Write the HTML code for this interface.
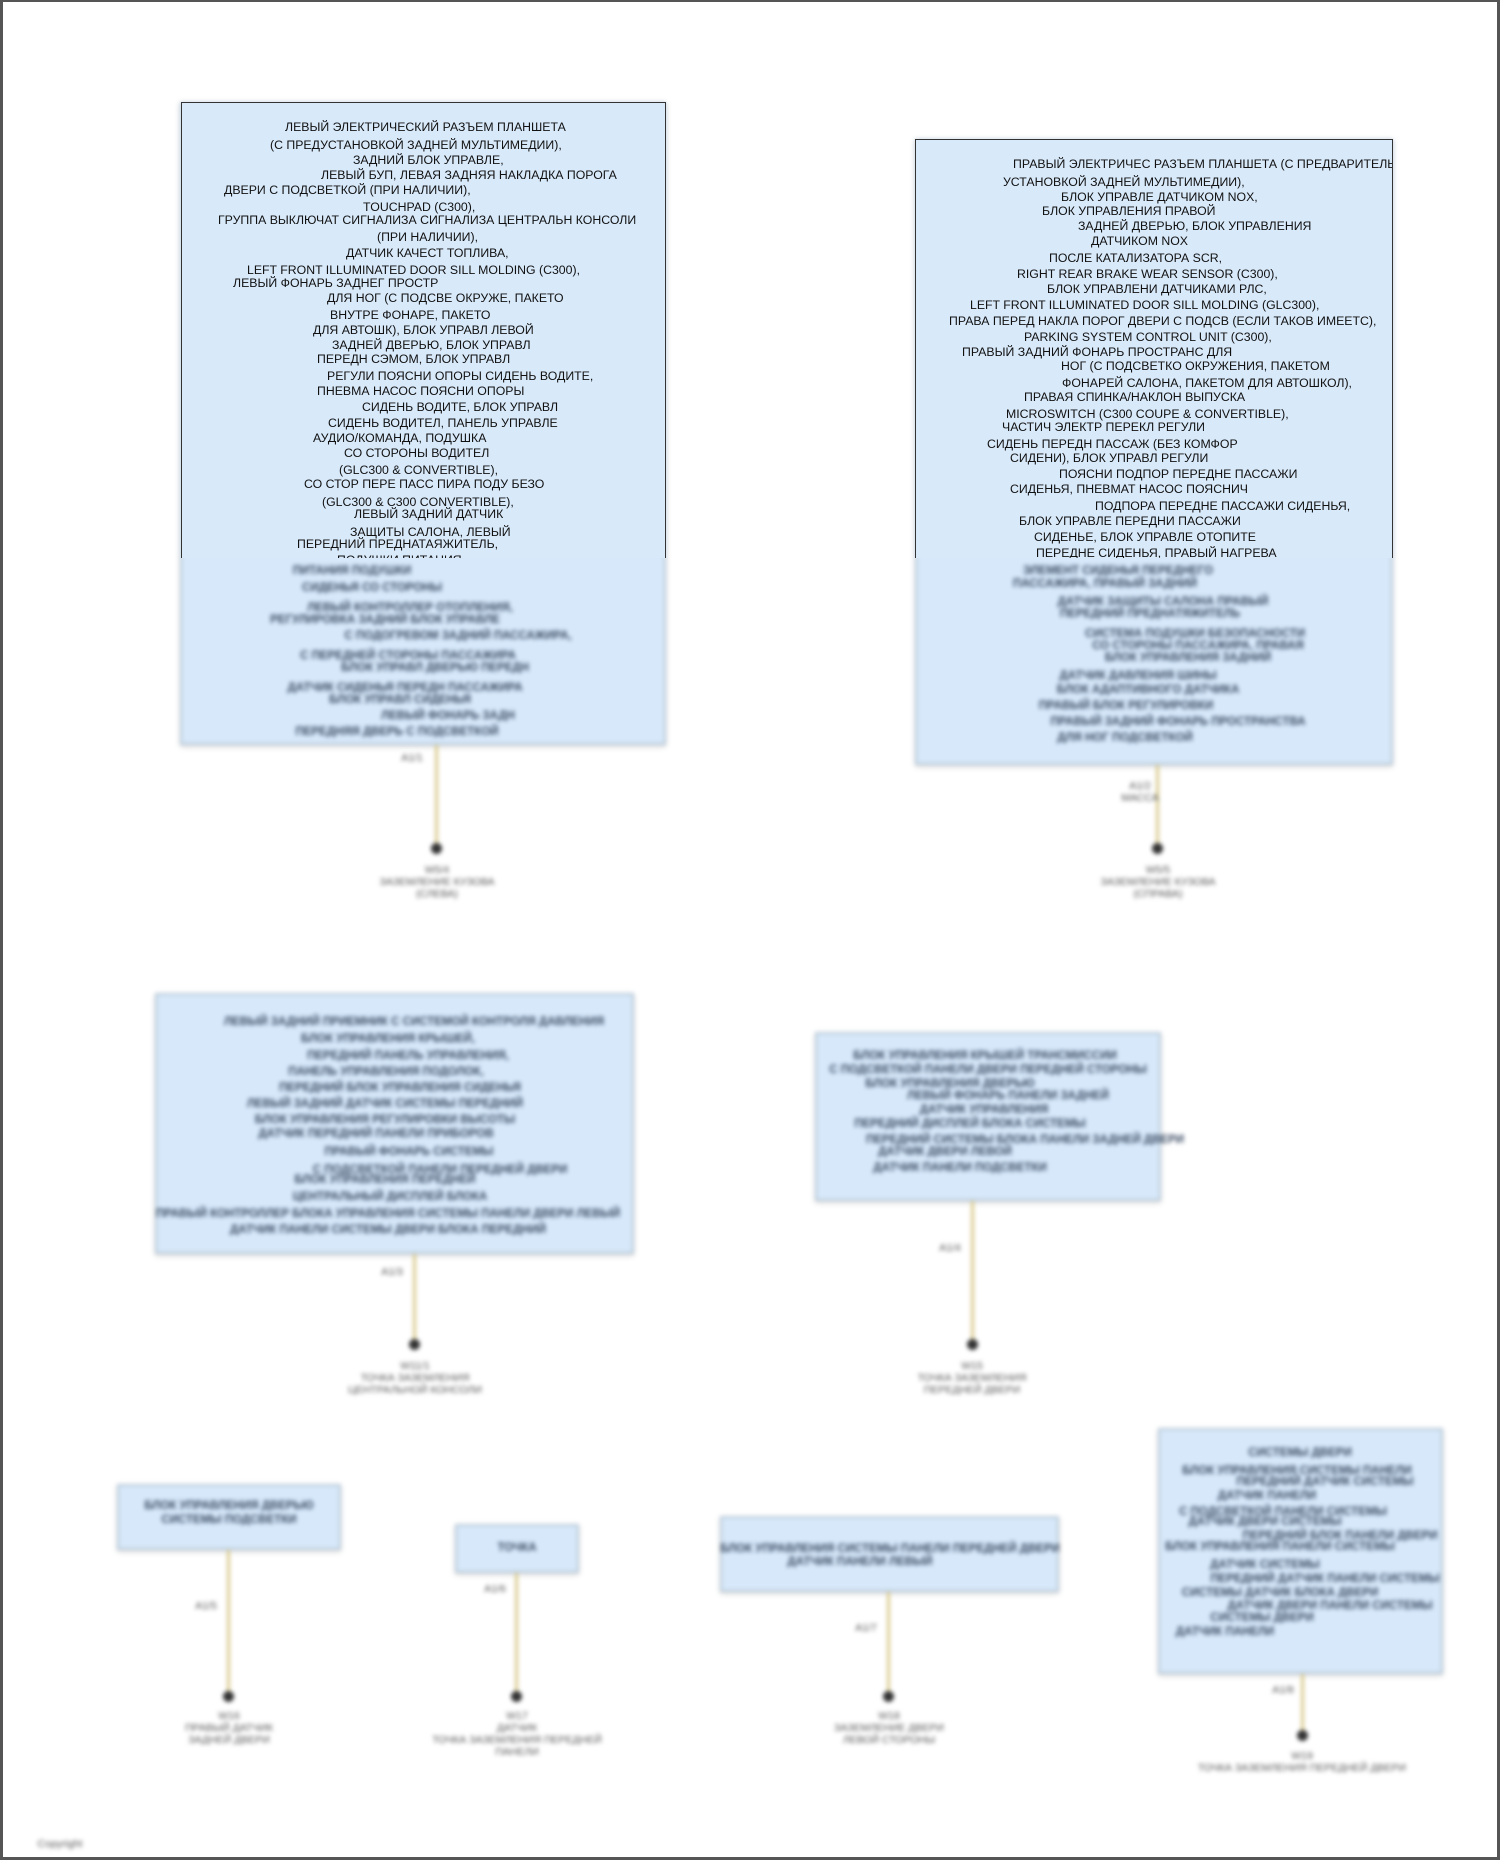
<!DOCTYPE html>
<html><head><meta charset="utf-8">
<style>
html,body{margin:0;padding:0;background:#fff}
#pg{position:relative;width:1500px;height:1861px;overflow:hidden;background:#fff;font-family:"Liberation Sans","Noto Sans CJK SC",sans-serif}
#frame{position:absolute;left:0;top:0;width:1494px;height:1855px;border:3px solid #555;border-top-width:2px;border-left-width:3px;z-index:5;pointer-events:none}
.box{position:absolute;background:#d8e9fa;border:1px solid #333;box-sizing:border-box}
.bbox{position:absolute;background:#d6e8fa;border:2px solid #b9c9d6;box-sizing:border-box;box-shadow:0 2px 4px rgba(0,0,0,.15)}
.t{position:absolute;white-space:nowrap;font-size:12.3px;color:#111;line-height:14px}
.bt{position:absolute;white-space:nowrap;font-size:11.5px;font-weight:bold;color:#3a4a62;line-height:13px;transform:translateX(-50%)}
.ln{position:absolute;width:3px;background:#d8c98c}
.dot{position:absolute;width:11px;height:11px;border-radius:50%;background:#333}
.lab{position:absolute;white-space:nowrap;font-size:10.5px;color:#555;text-align:center;line-height:12px;transform:translateX(-50%)}
#blur{position:absolute;left:0;top:0;width:1500px;height:1861px;filter:blur(2.2px)}
#sharp{position:absolute;left:0;top:0;width:1500px;height:558px;overflow:hidden;z-index:2}
</style></head><body><div id="pg">
<div id="blur">
 <div class="bbox" style="left:180px;top:102px;width:486px;height:643px"></div>
 <div class="bbox" style="left:915px;top:139px;width:478px;height:626px"></div>
 <div class="bt" style="left:352px;top:565px">ПИТАНИЯ ПОДУШКИ</div>
 <div class="bt" style="left:372px;top:582px">СИДЕНЬЯ СО СТОРОНЫ</div>
 <div class="bt" style="left:410px;top:602px">ЛЕВЫЙ КОНТРОЛЛЕР ОТОПЛЕНИЯ,</div>
 <div class="bt" style="left:385px;top:614px">РЕГУЛИРОВКА ЗАДНИЙ БЛОК УПРАВЛЕ</div>
 <div class="bt" style="left:458px;top:630px">С ПОДОГРЕВОМ ЗАДНИЙ ПАССАЖИРА,</div>
 <div class="bt" style="left:408px;top:650px">С ПЕРЕДНЕЙ СТОРОНЫ ПАССАЖИРА</div>
 <div class="bt" style="left:435px;top:662px">БЛОК УПРАВЛ ДВЕРЬЮ ПЕРЕДН</div>
 <div class="bt" style="left:405px;top:682px">ДАТЧИК СИДЕНЬЯ ПЕРЕДН ПАССАЖИРА</div>
 <div class="bt" style="left:400px;top:694px">БЛОК УПРАВЛ СИДЕНЬЯ</div>
 <div class="bt" style="left:448px;top:710px">ЛЕВЫЙ ФОНАРЬ ЗАДН</div>
 <div class="bt" style="left:397px;top:726px">ПЕРЕДНЯЯ ДВЕРЬ С ПОДСВЕТКОЙ</div>
 <div class="bt" style="left:1118px;top:565px">ЭЛЕМЕНТ СИДЕНЬЯ ПЕРЕДНЕГО</div>
 <div class="bt" style="left:1105px;top:578px">ПАССАЖИРА, ПРАВЫЙ ЗАДНИЙ</div>
 <div class="bt" style="left:1163px;top:596px">ДАТЧИК ЗАЩИТЫ САЛОНА ПРАВЫЙ</div>
 <div class="bt" style="left:1150px;top:608px">ПЕРЕДНИЙ ПРЕДНАТЯЖИТЕЛЬ</div>
 <div class="bt" style="left:1195px;top:628px">СИСТЕМА ПОДУШКИ БЕЗОПАСНОСТИ</div>
 <div class="bt" style="left:1198px;top:640px">СО СТОРОНЫ ПАССАЖИРА, ПРАВАЯ</div>
 <div class="bt" style="left:1188px;top:652px">БЛОК УПРАВЛЕНИЯ ЗАДНИЙ</div>
 <div class="bt" style="left:1138px;top:670px">ДАТЧИК ДАВЛЕНИЯ ШИНЫ</div>
 <div class="bt" style="left:1148px;top:684px">БЛОК АДАПТИВНОГО ДАТЧИКА</div>
 <div class="bt" style="left:1126px;top:700px">ПРАВЫЙ БЛОК РЕГУЛИРОВКИ</div>
 <div class="bt" style="left:1178px;top:716px">ПРАВЫЙ ЗАДНИЙ ФОНАРЬ ПРОСТРАНСТВА</div>
 <div class="bt" style="left:1125px;top:732px">ДЛЯ НОГ ПОДСВЕТКОЙ</div>
 <div class="ln" style="left:435px;top:745px;height:104px"></div>
 <div class="dot" style="left:431px;top:843px"></div>
 <div class="lab" style="left:412px;top:752px">A1/1</div>
 <div class="lab" style="left:437px;top:864px">W5/4<br>ЗАЗЕМЛЕНИЕ КУЗОВА<br>(СЛЕВА)</div>
 <div class="ln" style="left:1156px;top:765px;height:84px"></div>
 <div class="dot" style="left:1152px;top:843px"></div>
 <div class="lab" style="left:1140px;top:780px">A1/2<br>МАССА</div>
 <div class="lab" style="left:1158px;top:864px">W5/5<br>ЗАЗЕМЛЕНИЕ КУЗОВА<br>(СПРАВА)</div>
 <div class="bbox" style="left:155px;top:993px;width:479px;height:261px"></div>
 <div class="bt" style="left:414px;top:1016px">ЛЕВЫЙ ЗАДНИЙ ПРИЕМНИК С СИСТЕМОЙ КОНТРОЛЯ ДАВЛЕНИЯ</div>
 <div class="bt" style="left:388px;top:1033px">БЛОК УПРАВЛЕНИЯ КРЫШЕЙ,</div>
 <div class="bt" style="left:408px;top:1050px">ПЕРЕДНИЙ ПАНЕЛЬ УПРАВЛЕНИЯ,</div>
 <div class="bt" style="left:386px;top:1066px">ПАНЕЛЬ УПРАВЛЕНИЯ ПОДОЛОК,</div>
 <div class="bt" style="left:400px;top:1082px">ПЕРЕДНИЙ БЛОК УПРАВЛЕНИЯ СИДЕНЬЯ</div>
 <div class="bt" style="left:385px;top:1098px">ЛЕВЫЙ ЗАДНИЙ ДАТЧИК СИСТЕМЫ ПЕРЕДНИЙ</div>
 <div class="bt" style="left:385px;top:1114px">БЛОК УПРАВЛЕНИЯ РЕГУЛИРОВКИ ВЫСОТЫ</div>
 <div class="bt" style="left:376px;top:1128px">ДАТЧИК ПЕРЕДНИЙ ПАНЕЛИ ПРИБОРОВ</div>
 <div class="bt" style="left:409px;top:1146px">ПРАВЫЙ ФОНАРЬ СИСТЕМЫ</div>
 <div class="bt" style="left:440px;top:1164px">С ПОДСВЕТКОЙ ПАНЕЛИ ПЕРЕДНЕЙ ДВЕРИ</div>
 <div class="bt" style="left:385px;top:1174px">БЛОК УПРАВЛЕНИЯ ПЕРЕДНЕЙ</div>
 <div class="bt" style="left:390px;top:1191px">ЦЕНТРАЛЬНЫЙ ДИСПЛЕЙ БЛОКА</div>
 <div class="bt" style="left:388px;top:1208px">ПРАВЫЙ КОНТРОЛЛЕР БЛОКА УПРАВЛЕНИЯ СИСТЕМЫ ПАНЕЛИ ДВЕРИ ЛЕВЫЙ</div>
 <div class="bt" style="left:388px;top:1224px">ДАТЧИК ПАНЕЛИ СИСТЕМЫ ДВЕРИ БЛОКА ПЕРЕДНИЙ</div>
 <div class="ln" style="left:413px;top:1254px;height:91px"></div>
 <div class="dot" style="left:409px;top:1339px"></div>
 <div class="lab" style="left:392px;top:1266px">A1/3</div>
 <div class="lab" style="left:415px;top:1360px">W11/1<br>ТОЧКА ЗАЗЕМЛЕНИЯ<br>ЦЕНТРАЛЬНОЙ КОНСОЛИ</div>
 <div class="bbox" style="left:815px;top:1032px;width:346px;height:169px"></div>
 <div class="bt" style="left:985px;top:1050px">БЛОК УПРАВЛЕНИЯ КРЫШЕЙ ТРАНСМИССИИ</div>
 <div class="bt" style="left:988px;top:1064px">С ПОДСВЕТКОЙ ПАНЕЛИ ДВЕРИ ПЕРЕДНЕЙ СТОРОНЫ</div>
 <div class="bt" style="left:950px;top:1078px">БЛОК УПРАВЛЕНИЯ ДВЕРЬЮ</div>
 <div class="bt" style="left:1008px;top:1090px">ЛЕВЫЙ ФОНАРЬ ПАНЕЛИ ЗАДНЕЙ</div>
 <div class="bt" style="left:984px;top:1104px">ДАТЧИК УПРАВЛЕНИЯ</div>
 <div class="bt" style="left:970px;top:1118px">ПЕРЕДНИЙ ДИСПЛЕЙ БЛОКА СИСТЕМЫ</div>
 <div class="bt" style="left:1025px;top:1134px">ПЕРЕДНИЙ СИСТЕМЫ БЛОКА ПАНЕЛИ ЗАДНЕЙ ДВЕРИ</div>
 <div class="bt" style="left:945px;top:1146px">ДАТЧИК ДВЕРИ ЛЕВОЙ</div>
 <div class="bt" style="left:960px;top:1162px">ДАТЧИК ПАНЕЛИ ПОДСВЕТКИ</div>
 <div class="ln" style="left:971px;top:1201px;height:144px"></div>
 <div class="dot" style="left:967px;top:1339px"></div>
 <div class="lab" style="left:950px;top:1242px">A1/4</div>
 <div class="lab" style="left:972px;top:1360px">W15<br>ТОЧКА ЗАЗЕМЛЕНИЯ<br>ПЕРЕДНЕЙ ДВЕРИ</div>
 <div class="bbox" style="left:117px;top:1484px;width:224px;height:66px"></div>
 <div class="bt" style="left:229px;top:1500px">БЛОК УПРАВЛЕНИЯ ДВЕРЬЮ</div>
 <div class="bt" style="left:229px;top:1514px">СИСТЕМЫ ПОДСВЕТКИ</div>
 <div class="ln" style="left:227px;top:1550px;height:147px"></div>
 <div class="dot" style="left:223px;top:1691px"></div>
 <div class="lab" style="left:206px;top:1600px">A1/5</div>
 <div class="lab" style="left:229px;top:1710px">W16<br>ПРАВЫЙ ДАТЧИК<br>ЗАДНЕЙ ДВЕРИ</div>
 <div class="bbox" style="left:455px;top:1524px;width:124px;height:49px"></div>
 <div class="bt" style="left:517px;top:1542px">ТОЧКА</div>
 <div class="ln" style="left:515px;top:1573px;height:124px"></div>
 <div class="dot" style="left:511px;top:1691px"></div>
 <div class="lab" style="left:495px;top:1583px">A1/6</div>
 <div class="lab" style="left:517px;top:1710px">W17<br>ДАТЧИК<br>ТОЧКА ЗАЗЕМЛЕНИЯ ПЕРЕДНЕЙ<br>ПАНЕЛИ</div>
 <div class="bbox" style="left:720px;top:1516px;width:339px;height:76px"></div>
 <div class="bt" style="left:890px;top:1543px">БЛОК УПРАВЛЕНИЯ СИСТЕМЫ ПАНЕЛИ ПЕРЕДНЕЙ ДВЕРИ</div>
 <div class="bt" style="left:860px;top:1556px">ДАТЧИК ПАНЕЛИ ЛЕВЫЙ</div>
 <div class="ln" style="left:887px;top:1592px;height:105px"></div>
 <div class="dot" style="left:883px;top:1691px"></div>
 <div class="lab" style="left:866px;top:1622px">A1/7</div>
 <div class="lab" style="left:889px;top:1710px">W18<br>ЗАЗЕМЛЕНИЕ ДВЕРИ<br>ЛЕВОЙ СТОРОНЫ</div>
 <div class="bbox" style="left:1158px;top:1428px;width:285px;height:246px"></div>
 <div class="bt" style="left:1300px;top:1447px">СИСТЕМЫ ДВЕРИ</div>
 <div class="bt" style="left:1297px;top:1465px">БЛОК УПРАВЛЕНИЯ СИСТЕМЫ ПАНЕЛИ</div>
 <div class="bt" style="left:1325px;top:1476px">ПЕРЕДНИЙ ДАТЧИК СИСТЕМЫ</div>
 <div class="bt" style="left:1267px;top:1490px">ДАТЧИК ПАНЕЛИ</div>
 <div class="bt" style="left:1283px;top:1506px">С ПОДСВЕТКОЙ ПАНЕЛИ СИСТЕМЫ</div>
 <div class="bt" style="left:1265px;top:1516px">ДАТЧИК ДВЕРИ СИСТЕМЫ</div>
 <div class="bt" style="left:1340px;top:1530px">ПЕРЕДНИЙ БЛОК ПАНЕЛИ ДВЕРИ</div>
 <div class="bt" style="left:1280px;top:1541px">БЛОК УПРАВЛЕНИЯ ПАНЕЛИ СИСТЕМЫ</div>
 <div class="bt" style="left:1265px;top:1559px">ДАТЧИК СИСТЕМЫ</div>
 <div class="bt" style="left:1325px;top:1573px">ПЕРЕДНИЙ ДАТЧИК ПАНЕЛИ СИСТЕМЫ</div>
 <div class="bt" style="left:1280px;top:1587px">СИСТЕМЫ ДАТЧИК БЛОКА ДВЕРИ</div>
 <div class="bt" style="left:1330px;top:1600px">ДАТЧИК ДВЕРИ ПАНЕЛИ СИСТЕМЫ</div>
 <div class="bt" style="left:1262px;top:1612px">СИСТЕМЫ ДВЕРИ</div>
 <div class="bt" style="left:1225px;top:1626px">ДАТЧИК ПАНЕЛИ</div>
 <div class="ln" style="left:1301px;top:1674px;height:62px"></div>
 <div class="dot" style="left:1297px;top:1730px"></div>
 <div class="lab" style="left:1283px;top:1684px">A1/8</div>
 <div class="lab" style="left:1302px;top:1750px">W19<br>ТОЧКА ЗАЗЕМЛЕНИЯ ПЕРЕДНЕЙ ДВЕРИ</div>
 <div class="lab" style="left:60px;top:1838px">Copyright</div>
</div>

<div id="sharp">
 <div class="box" style="left:181px;top:102px;width:485px;height:643px"></div>
 <div class="t" style="left:285px;top:120px">ЛЕВЫЙ ЭЛЕКТРИЧЕСКИЙ РАЗЪЕМ ПЛАНШЕТА</div>
 <div class="t" style="left:270px;top:138px">(С ПРЕДУСТАНОВКОЙ ЗАДНЕЙ МУЛЬТИМЕДИИ),</div>
 <div class="t" style="left:353px;top:153px">ЗАДНИЙ БЛОК УПРАВЛЕ,</div>
 <div class="t" style="left:321px;top:168px">ЛЕВЫЙ БУП, ЛЕВАЯ ЗАДНЯЯ НАКЛАДКА ПОРОГА</div>
 <div class="t" style="left:224px;top:183px">ДВЕРИ С ПОДСВЕТКОЙ (ПРИ НАЛИЧИИ),</div>
 <div class="t" style="left:363px;top:200px">TOUCHPAD (C300),</div>
 <div class="t" style="left:218px;top:213px">ГРУППА ВЫКЛЮЧАТ СИГНАЛИЗА СИГНАЛИЗА ЦЕНТРАЛЬН КОНСОЛИ</div>
 <div class="t" style="left:377px;top:230px">(ПРИ НАЛИЧИИ),</div>
 <div class="t" style="left:346px;top:246px">ДАТЧИК КАЧЕСТ ТОПЛИВА,</div>
 <div class="t" style="left:247px;top:263px">LEFT FRONT ILLUMINATED DOOR SILL MOLDING (C300),</div>
 <div class="t" style="left:233px;top:276px">ЛЕВЫЙ ФОНАРЬ ЗАДНЕГ ПРОСТР</div>
 <div class="t" style="left:327px;top:291px">ДЛЯ НОГ (С ПОДСВЕ ОКРУЖЕ, ПАКЕТО</div>
 <div class="t" style="left:330px;top:308px">ВНУТРЕ ФОНАРЕ, ПАКЕТО</div>
 <div class="t" style="left:313px;top:323px">ДЛЯ АВТОШК), БЛОК УПРАВЛ ЛЕВОЙ</div>
 <div class="t" style="left:332px;top:338px">ЗАДНЕЙ ДВЕРЬЮ, БЛОК УПРАВЛ</div>
 <div class="t" style="left:317px;top:352px">ПЕРЕДН СЭМОМ, БЛОК УПРАВЛ</div>
 <div class="t" style="left:327px;top:369px">РЕГУЛИ ПОЯСНИ ОПОРЫ СИДЕНЬ ВОДИТЕ,</div>
 <div class="t" style="left:317px;top:384px">ПНЕВМА НАСОС ПОЯСНИ ОПОРЫ</div>
 <div class="t" style="left:362px;top:400px">СИДЕНЬ ВОДИТЕ, БЛОК УПРАВЛ</div>
 <div class="t" style="left:328px;top:416px">СИДЕНЬ ВОДИТЕЛ, ПАНЕЛЬ УПРАВЛЕ</div>
 <div class="t" style="left:313px;top:431px">АУДИО/КОМАНДА, ПОДУШКА</div>
 <div class="t" style="left:344px;top:446px">СО СТОРОНЫ ВОДИТЕЛ</div>
 <div class="t" style="left:339px;top:463px">(GLC300 &amp; CONVERTIBLE),</div>
 <div class="t" style="left:304px;top:477px">СО СТОР ПЕРЕ ПАСС ПИРА ПОДУ БЕЗО</div>
 <div class="t" style="left:322px;top:495px">(GLC300 &amp; C300 CONVERTIBLE),</div>
 <div class="t" style="left:354px;top:507px">ЛЕВЫЙ ЗАДНИЙ ДАТЧИК</div>
 <div class="t" style="left:350px;top:525px">ЗАЩИТЫ САЛОНА, ЛЕВЫЙ</div>
 <div class="t" style="left:297px;top:537px">ПЕРЕДНИЙ ПРЕДНАТАЯЖИТЕЛЬ,</div>
 <div class="t" style="left:337px;top:553px">ПОДУШКИ ПИТАНИЯ</div>

 <div class="box" style="left:915px;top:139px;width:478px;height:626px;overflow:hidden">
  <div class="t" style="left:97px;top:17px">ПРАВЫЙ ЭЛЕКТРИЧЕС РАЗЪЕМ ПЛАНШЕТА (С ПРЕДВАРИТЕЛЬНОЙ</div>
 </div>
 <div class="t" style="left:1003px;top:175px">УСТАНОВКОЙ ЗАДНЕЙ МУЛЬТИМЕДИИ),</div>
 <div class="t" style="left:1061px;top:190px">БЛОК УПРАВЛЕ ДАТЧИКОМ NOX,</div>
 <div class="t" style="left:1042px;top:204px">БЛОК УПРАВЛЕНИЯ ПРАВОЙ</div>
 <div class="t" style="left:1078px;top:219px">ЗАДНЕЙ ДВЕРЬЮ, БЛОК УПРАВЛЕНИЯ</div>
 <div class="t" style="left:1091px;top:234px">ДАТЧИКОМ NOX</div>
 <div class="t" style="left:1049px;top:251px">ПОСЛЕ КАТАЛИЗАТОРА SCR,</div>
 <div class="t" style="left:1017px;top:267px">RIGHT REAR BRAKE WEAR SENSOR (C300),</div>
 <div class="t" style="left:1047px;top:282px">БЛОК УПРАВЛЕНИ ДАТЧИКАМИ РЛС,</div>
 <div class="t" style="left:970px;top:298px">LEFT FRONT ILLUMINATED DOOR SILL MOLDING (GLC300),</div>
 <div class="t" style="left:949px;top:314px">ПРАВА ПЕРЕД НАКЛА ПОРОГ ДВЕРИ С ПОДСВ (ЕСЛИ ТАКОВ ИМЕЕТС),</div>
 <div class="t" style="left:1024px;top:330px">PARKING SYSTEM CONTROL UNIT (C300),</div>
 <div class="t" style="left:962px;top:345px">ПРАВЫЙ ЗАДНИЙ ФОНАРЬ ПРОСТРАНС ДЛЯ</div>
 <div class="t" style="left:1061px;top:359px">НОГ (С ПОДСВЕТКО ОКРУЖЕНИЯ, ПАКЕТОМ</div>
 <div class="t" style="left:1062px;top:376px">ФОНАРЕЙ САЛОНА, ПАКЕТОМ ДЛЯ АВТОШКОЛ),</div>
 <div class="t" style="left:1024px;top:390px">ПРАВАЯ СПИНКА/НАКЛОН ВЫПУСКА</div>
 <div class="t" style="left:1006px;top:407px">MICROSWITCH (C300 COUPE &amp; CONVERTIBLE),</div>
 <div class="t" style="left:1002px;top:420px">ЧАСТИЧ ЭЛЕКТР ПЕРЕКЛ РЕГУЛИ</div>
 <div class="t" style="left:987px;top:437px">СИДЕНЬ ПЕРЕДН ПАССАЖ (БЕЗ КОМФОР</div>
 <div class="t" style="left:1010px;top:451px">СИДЕНИ), БЛОК УПРАВЛ РЕГУЛИ</div>
 <div class="t" style="left:1059px;top:467px">ПОЯСНИ ПОДПОР ПЕРЕДНЕ ПАССАЖИ</div>
 <div class="t" style="left:1010px;top:482px">СИДЕНЬЯ, ПНЕВМАТ НАСОС ПОЯСНИЧ</div>
 <div class="t" style="left:1095px;top:499px">ПОДПОРА ПЕРЕДНЕ ПАССАЖИ СИДЕНЬЯ,</div>
 <div class="t" style="left:1019px;top:514px">БЛОК УПРАВЛЕ ПЕРЕДНИ ПАССАЖИ</div>
 <div class="t" style="left:1034px;top:530px">СИДЕНЬЕ, БЛОК УПРАВЛЕ ОТОПИТЕ</div>
 <div class="t" style="left:1036px;top:546px">ПЕРЕДНЕ СИДЕНЬЯ, ПРАВЫЙ НАГРЕВА</div>
</div>
<div id="frame"></div>
</div></body></html>
